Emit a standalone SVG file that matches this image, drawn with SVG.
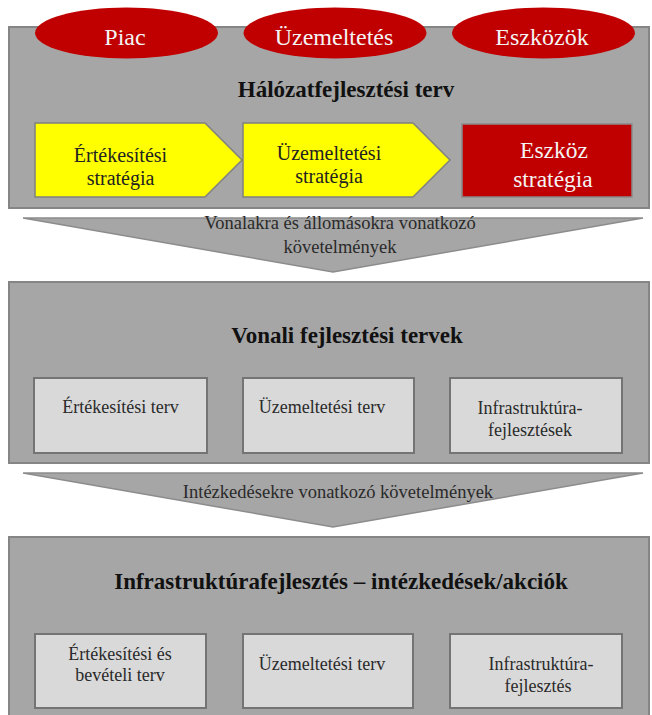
<svg xmlns="http://www.w3.org/2000/svg" width="652" height="715" viewBox="0 0 652 715" font-family="'Liberation Serif', 'Times New Roman', Tinos, 'DejaVu Serif', serif">
<style>
text{font-family:'Liberation Serif','Times New Roman',Tinos,'DejaVu Serif',serif;text-anchor:middle}
.panel{fill:#a6a6a6;stroke:#858585;stroke-width:2}
.box{fill:#d9d9d9;stroke:#747474;stroke-width:2}
.yel{fill:#ffff00;stroke:#808080;stroke-width:1.5}
.red{fill:#c00000;stroke:#8a8a8a;stroke-width:1.5}
.oval{fill:#c00000}
.chev{fill:#a6a6a6;stroke:#8c8c8c;stroke-width:1.5}
.title{font-size:23px;font-weight:bold;fill:#111}
.ot{font-size:24px;fill:#f4f4f4}
.yt{font-size:20px;fill:#222}
.rt{font-size:23.5px;fill:#f4f4f4}
.bt{font-size:18px;fill:#2a2a2a}
.ct{font-size:18.5px;fill:#2a2a2a}
</style>
<rect width="652" height="715" fill="#ffffff"/>

<g id="panel-halozat">
<rect class="panel" x="9" y="27" width="640" height="181"/>
<text class="title" x="346" y="97">Hálózatfejlesztési terv</text>
</g>
<g id="oval-piac">
<ellipse class="oval" cx="126.5" cy="33" rx="91.5" ry="25.5"/>
<text class="ot" x="125" y="45">Piac</text>
</g>
<g id="oval-uzemeltetes">
<ellipse class="oval" cx="335" cy="33" rx="91.5" ry="25.5"/>
<text class="ot" x="334" y="45">Üzemeltetés</text>
</g>
<g id="oval-eszkozok">
<ellipse class="oval" cx="543.5" cy="33" rx="91.5" ry="25.5"/>
<text class="ot" x="542" y="45">Eszközök</text>
</g>
<g id="ertekesitesi-strategia">
<polygon class="yel" points="35,123 205,123 242,160 205,197 35,197"/>
<text class="yt" x="120.5" y="162">Értékesítési</text>
<text class="yt" x="120.5" y="185">stratégia</text>
</g>
<g id="uzemeltetesi-strategia">
<polygon class="yel" points="243,123 413,123 450,160 413,197 243,197"/>
<text class="yt" x="329" y="160">Üzemeltetési</text>
<text class="yt" x="329" y="183">stratégia</text>
</g>
<g id="eszkoz-strategia">
<rect class="red" x="462" y="124" width="170" height="73"/>
<text class="rt" x="554" y="158">Eszköz</text>
<text class="rt" x="553" y="187">stratégia</text>
</g>

<g id="connectors">
<polygon class="chev" points="23,218 643,218 333,272"/>
<text class="ct" x="340" y="229">Vonalakra és állomásokra vonatkozó</text>
<text class="ct" x="340" y="253">követelmények</text>
<polygon class="chev" points="23,473 643,473 333,527"/>
<text class="ct" x="338" y="498">Intézkedésekre vonatkozó követelmények</text>
</g>

<g id="panel-vonali">
<rect class="panel" x="9" y="282" width="640" height="181"/>
<text class="title" x="347" y="343">Vonali fejlesztési tervek</text>
</g>
<g id="vonali-ertekesitesi">
<rect class="box" x="34" y="378" width="173" height="75"/>
<text class="bt" x="120.5" y="413">Értékesítési terv</text>
</g>
<g id="vonali-uzemeltetesi">
<rect class="box" x="243" y="378" width="171" height="75"/>
<text class="bt" x="322" y="413">Üzemeltetési terv</text>
</g>
<g id="vonali-infra">
<rect class="box" x="450" y="378" width="172" height="75"/>
<text class="bt" x="530" y="414">Infrastruktúra-</text>
<text class="bt" x="530" y="436">fejlesztések</text>
</g>

<g id="panel-infra">
<rect class="panel" x="9" y="537" width="640" height="190"/>
<text class="title" x="341" y="589">Infrastruktúrafejlesztés – intézkedések/akciók</text>
</g>
<g id="infra-ertekesitesi">
<rect class="box" x="35" y="634" width="171" height="74"/>
<text class="bt" x="120" y="660">Értékesítési és</text>
<text class="bt" x="120" y="681">bevételi terv</text>
</g>
<g id="infra-uzemeltetesi">
<rect class="box" x="243" y="634" width="170" height="74"/>
<text class="bt" x="322" y="670">Üzemeltetési terv</text>
</g>
<g id="infra-fejlesztes">
<rect class="box" x="450" y="634" width="172" height="74"/>
<text class="bt" x="541" y="670">Infrastruktúra-</text>
<text class="bt" x="538" y="692">fejlesztés</text>
</g>
</svg>
